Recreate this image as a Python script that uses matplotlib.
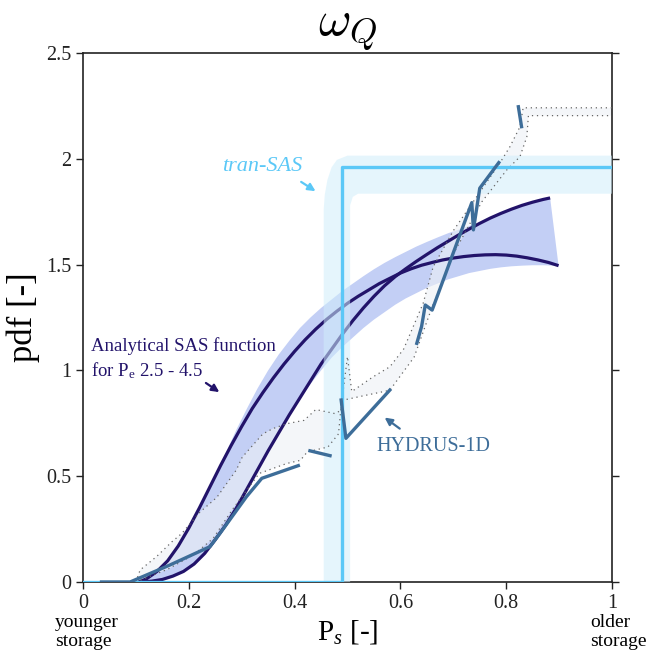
import numpy as np
import matplotlib
matplotlib.use("Agg")
import matplotlib.pyplot as plt

plt.rcParams['font.family'] = ['Liberation Serif', 'DejaVu Serif']
plt.rcParams['mathtext.fontset'] = 'custom'
plt.rcParams['mathtext.rm'] = 'Liberation Serif'
plt.rcParams['mathtext.it'] = 'Liberation Serif:italic'

# ---------------- data ----------------
# analytical SAS curve, Pe = 2.5 (flatter start, ends highest)
curveA_x = [0.11, 0.13, 0.15, 0.17, 0.19, 0.21, 0.23, 0.25, 0.27, 0.29, 0.31, 0.33, 0.35, 0.37,
            0.39, 0.41, 0.43, 0.45, 0.47, 0.49, 0.51, 0.53, 0.55, 0.57, 0.59, 0.61, 0.63, 0.65,
            0.67, 0.69, 0.71, 0.73, 0.75, 0.77, 0.79, 0.81, 0.83, 0.85, 0.87, 0.883]
curveA_y = [0.0, 0.004, 0.012, 0.028, 0.05, 0.085, 0.135, 0.20, 0.27, 0.35, 0.44, 0.53, 0.62, 0.705,
            0.79, 0.87, 0.95, 1.03, 1.10, 1.17, 1.235, 1.295, 1.35, 1.40, 1.443, 1.48, 1.515, 1.548,
            1.58, 1.61, 1.64, 1.668, 1.695, 1.72, 1.742, 1.762, 1.78, 1.795, 1.808, 1.815]
# analytical SAS curve, Pe = 4.5 (steeper, peaks ~1.55)
curveB_x = [0.105, 0.12, 0.14, 0.16, 0.18, 0.20, 0.22, 0.24, 0.26, 0.28, 0.30, 0.32, 0.34, 0.36,
            0.38, 0.40, 0.42, 0.44, 0.46, 0.48, 0.50, 0.52, 0.54, 0.56, 0.58, 0.60, 0.62, 0.64,
            0.66, 0.68, 0.70, 0.72, 0.74, 0.76, 0.78, 0.80, 0.82, 0.84, 0.86, 0.88, 0.899]
curveB_y = [0.0, 0.015, 0.05, 0.10, 0.17, 0.255, 0.35, 0.45, 0.55, 0.645, 0.735, 0.82, 0.895, 0.965,
            1.03, 1.09, 1.145, 1.195, 1.24, 1.28, 1.317, 1.35, 1.38, 1.41, 1.435, 1.46, 1.48, 1.497,
            1.51, 1.522, 1.531, 1.538, 1.543, 1.546, 1.547, 1.545, 1.54, 1.532, 1.522, 1.51, 1.495]
# envelope of the analytical band
band_up_x = [0.105, 0.14, 0.18, 0.22, 0.25, 0.27, 0.29, 0.31, 0.33, 0.35, 0.37, 0.39, 0.41, 0.43,
             0.45, 0.47, 0.49, 0.51, 0.53, 0.55, 0.57, 0.59, 0.61, 0.63, 0.65, 0.67, 0.69, 0.71,
             0.73, 0.75, 0.77, 0.79, 0.81, 0.83, 0.85, 0.87, 0.883]
band_up_y = [0.0, 0.05, 0.17, 0.35, 0.50, 0.61, 0.72, 0.82, 0.915, 1.0, 1.075, 1.14, 1.20, 1.25,
             1.295, 1.335, 1.375, 1.41, 1.445, 1.478, 1.508, 1.535, 1.56, 1.585, 1.607, 1.628, 1.648, 1.665,
             1.683, 1.70, 1.722, 1.743, 1.763, 1.781, 1.796, 1.809, 1.816]
band_lo_x = [0.11, 0.13, 0.15, 0.17, 0.19, 0.21, 0.23, 0.25, 0.27, 0.29, 0.31, 0.33, 0.35, 0.37,
             0.39, 0.41, 0.43, 0.45, 0.47, 0.49, 0.51, 0.53, 0.55, 0.57, 0.59, 0.61, 0.63, 0.65,
             0.67, 0.69, 0.71, 0.73, 0.75, 0.77, 0.79, 0.81, 0.83, 0.85, 0.87, 0.899]
band_lo_y = [0.0, 0.004, 0.012, 0.028, 0.05, 0.085, 0.135, 0.20, 0.27, 0.35, 0.44, 0.53, 0.62, 0.705,
             0.79, 0.865, 0.935, 1.0, 1.06, 1.11, 1.155, 1.20, 1.24, 1.275, 1.31, 1.34, 1.365, 1.39,
             1.41, 1.43, 1.445, 1.46, 1.47, 1.48, 1.487, 1.492, 1.495, 1.497, 1.497, 1.494]

# HYDRUS-1D segments
hyd1_x = [0.035, 0.089, 0.164, 0.24, 0.259, 0.309, 0.338, 0.407]
hyd1_y = [0.0, 0.0, 0.08, 0.167, 0.23, 0.403, 0.49, 0.55]
hyd2_x = [0.429, 0.467]
hyd2_y = [0.62, 0.597]
hyd3_x = [0.488, 0.497, 0.580]
hyd3_y = [0.86, 0.679, 0.907]
hyd4_x = [0.631, 0.640, 0.647, 0.660, 0.735, 0.738, 0.750, 0.786]
hyd4_y = [1.128, 1.207, 1.309, 1.285, 1.793, 1.664, 1.861, 1.982]
hyd5_x = [0.823, 0.829]
hyd5_y = [2.246, 2.152]

# HYDRUS range (dotted envelopes)
hup_x = [0.10, 0.108, 0.139, 0.168, 0.187, 0.221, 0.253, 0.29, 0.301, 0.34, 0.359, 0.385, 0.418,
         0.44, 0.476, 0.487, 0.50, 0.508, 0.548, 0.58, 0.606, 0.643, 0.662, 0.70, 0.744, 0.788,
         0.807, 0.826, 0.832, 1.0]
hup_y = [0.0, 0.057, 0.12, 0.19, 0.23, 0.33, 0.40, 0.53, 0.59, 0.70, 0.725, 0.748, 0.764,
         0.815, 0.796, 0.81, 1.065, 0.90, 0.969, 1.017, 1.10, 1.317, 1.49, 1.66, 1.82, 1.98,
         2.057, 2.151, 2.241, 2.241]
hlo_x = [0.10, 0.16, 0.21, 0.246, 0.284, 0.333, 0.385, 0.411, 0.424, 0.463, 0.483, 0.489, 0.53,
         0.58, 0.626, 0.66, 0.70, 0.754, 0.801, 0.826, 0.839, 0.842, 1.0]
hlo_y = [0.0, 0.06, 0.13, 0.206, 0.348, 0.513, 0.56, 0.575, 0.615, 0.638, 0.70, 0.858, 0.88,
         0.906, 1.063, 1.30, 1.55, 1.797, 1.947, 2.01, 2.104, 2.204, 2.204]

# tran-SAS
tran_x = [0.0, 0.49, 0.49, 1.0]
tran_y = [0.0, 0.0, 1.96, 1.96]
tran_out_x = [0.455, 0.455, 0.457, 0.462, 0.47, 0.48, 0.50, 1.0]
tran_out_y = [0.0, 1.76, 1.83, 1.90, 1.96, 1.995, 2.015, 2.015]
tran_in_x = [0.505, 0.505, 0.51, 0.52, 1.0]
tran_in_y = [0.0, 1.78, 1.82, 1.835, 1.835]

xticks = [0, 0.2, 0.4, 0.6, 0.8, 1]
xticklabels = ['0', '0.2', '0.4', '0.6', '0.8', '1']
yticks = [0, 0.5, 1, 1.5, 2, 2.5]
yticklabels = ['0', '0.5', '1', '1.5', '2', '2.5']

# ---------------- colours ----------------
NAVY = '#22136a'
BAND = '#c3cff5'
HYD = '#3d6d99'
TRAN = '#5bc8f7'

fig = plt.figure(figsize=(6.48, 6.54), dpi=100)
ax = fig.add_axes([83/648, 72/654, 529/648, 529/654])

# analytical band
ax.fill(np.r_[band_up_x, band_lo_x[::-1]], np.r_[band_up_y, band_lo_y[::-1]],
        color=BAND, lw=0, zorder=1)
# HYDRUS range fill
ax.fill(np.r_[hup_x, hlo_x[::-1]], np.r_[hup_y, hlo_y[::-1]],
        color='#eef1f6', alpha=0.6, lw=0, zorder=1.5)
# analytical curves
ax.plot(curveA_x, curveA_y, color=NAVY, lw=2.3, zorder=2, solid_capstyle='butt')
ax.plot(curveB_x, curveB_y, color=NAVY, lw=2.3, zorder=2, solid_capstyle='butt')
# tran-SAS envelope
ax.fill(np.r_[tran_out_x, tran_in_x[::-1]], np.r_[tran_out_y, tran_in_y[::-1]],
        color='#d0eefb', alpha=0.55, lw=0, zorder=3)
# HYDRUS dotted envelopes
ax.plot(hup_x, hup_y, color='#666666', lw=0.9, ls=(0, (1, 3)), zorder=3.5)
ax.plot(hlo_x, hlo_y, color='#666666', lw=0.9, ls=(0, (1, 3)), zorder=3.5)
# tran-SAS line
ax.plot(tran_x, tran_y, color=TRAN, lw=2.4, zorder=4)
# HYDRUS lines
for hx, hy in [(hyd1_x, hyd1_y), (hyd2_x, hyd2_y), (hyd3_x, hyd3_y),
               (hyd4_x, hyd4_y), (hyd5_x, hyd5_y)]:
    ax.plot(hx, hy, color=HYD, lw=2.4, zorder=5)

# annotations
ax.text(0.015, 1.115, 'Analytical SAS function', color=NAVY, fontsize=13.5,
        va='center', ha='left')
ax.text(0.015, 0.997, r'for P$_\mathrm{e}$ 2.5 - 4.5', color=NAVY, fontsize=13.5,
        va='center', ha='left')
ax.annotate('', xy=(0.262, 0.89), xytext=(0.228, 0.948),
            arrowprops=dict(arrowstyle='-|>', color=NAVY, lw=1.6, mutation_scale=11))
ax.text(0.554, 0.64, 'HYDRUS-1D', color=HYD, fontsize=14.5, va='center', ha='left')
ax.annotate('', xy=(0.566, 0.785), xytext=(0.603, 0.717),
            arrowprops=dict(arrowstyle='-|>', color=HYD, lw=1.6, mutation_scale=11))
ax.text(0.263, 1.965, 'tran-SAS', color=TRAN, fontsize=16, style='italic',
        va='center', ha='left')
ax.annotate('', xy=(0.444, 1.84), xytext=(0.408, 1.898),
            arrowprops=dict(arrowstyle='-|>', color=TRAN, lw=1.6, mutation_scale=11))

# axes styling
ax.set_xlim(0, 1)
ax.set_ylim(0, 2.5)
ax.set_xticks(xticks)
ax.set_xticklabels(xticklabels)
ax.set_yticks(yticks)
ax.set_yticklabels(yticklabels)
ax.tick_params(direction='out', length=5, width=1, labelsize=14.5, colors='#222222',
               right=True, top=False)
for s in ax.spines.values():
    s.set_color('#222222')
    s.set_linewidth(1.2)

ax.set_ylabel('pdf [-]', fontsize=25, labelpad=4)
ax.set_xlabel(r'P$_s$ [-]', fontsize=21, labelpad=4)
ax.set_title(r'$\omega_Q$', fontsize=36, math_fontfamily='cm', pad=1)

trans = ax.get_xaxis_transform()
ax.text(-0.053, -0.095, 'younger\nstorage', transform=trans, fontsize=14,
        ha='left', va='center', linespacing=1.12)
ax.text(0.958, -0.095, 'older\nstorage', transform=trans, fontsize=14,
        ha='left', va='center', linespacing=1.12)

fig.savefig('out.png', dpi=100)
